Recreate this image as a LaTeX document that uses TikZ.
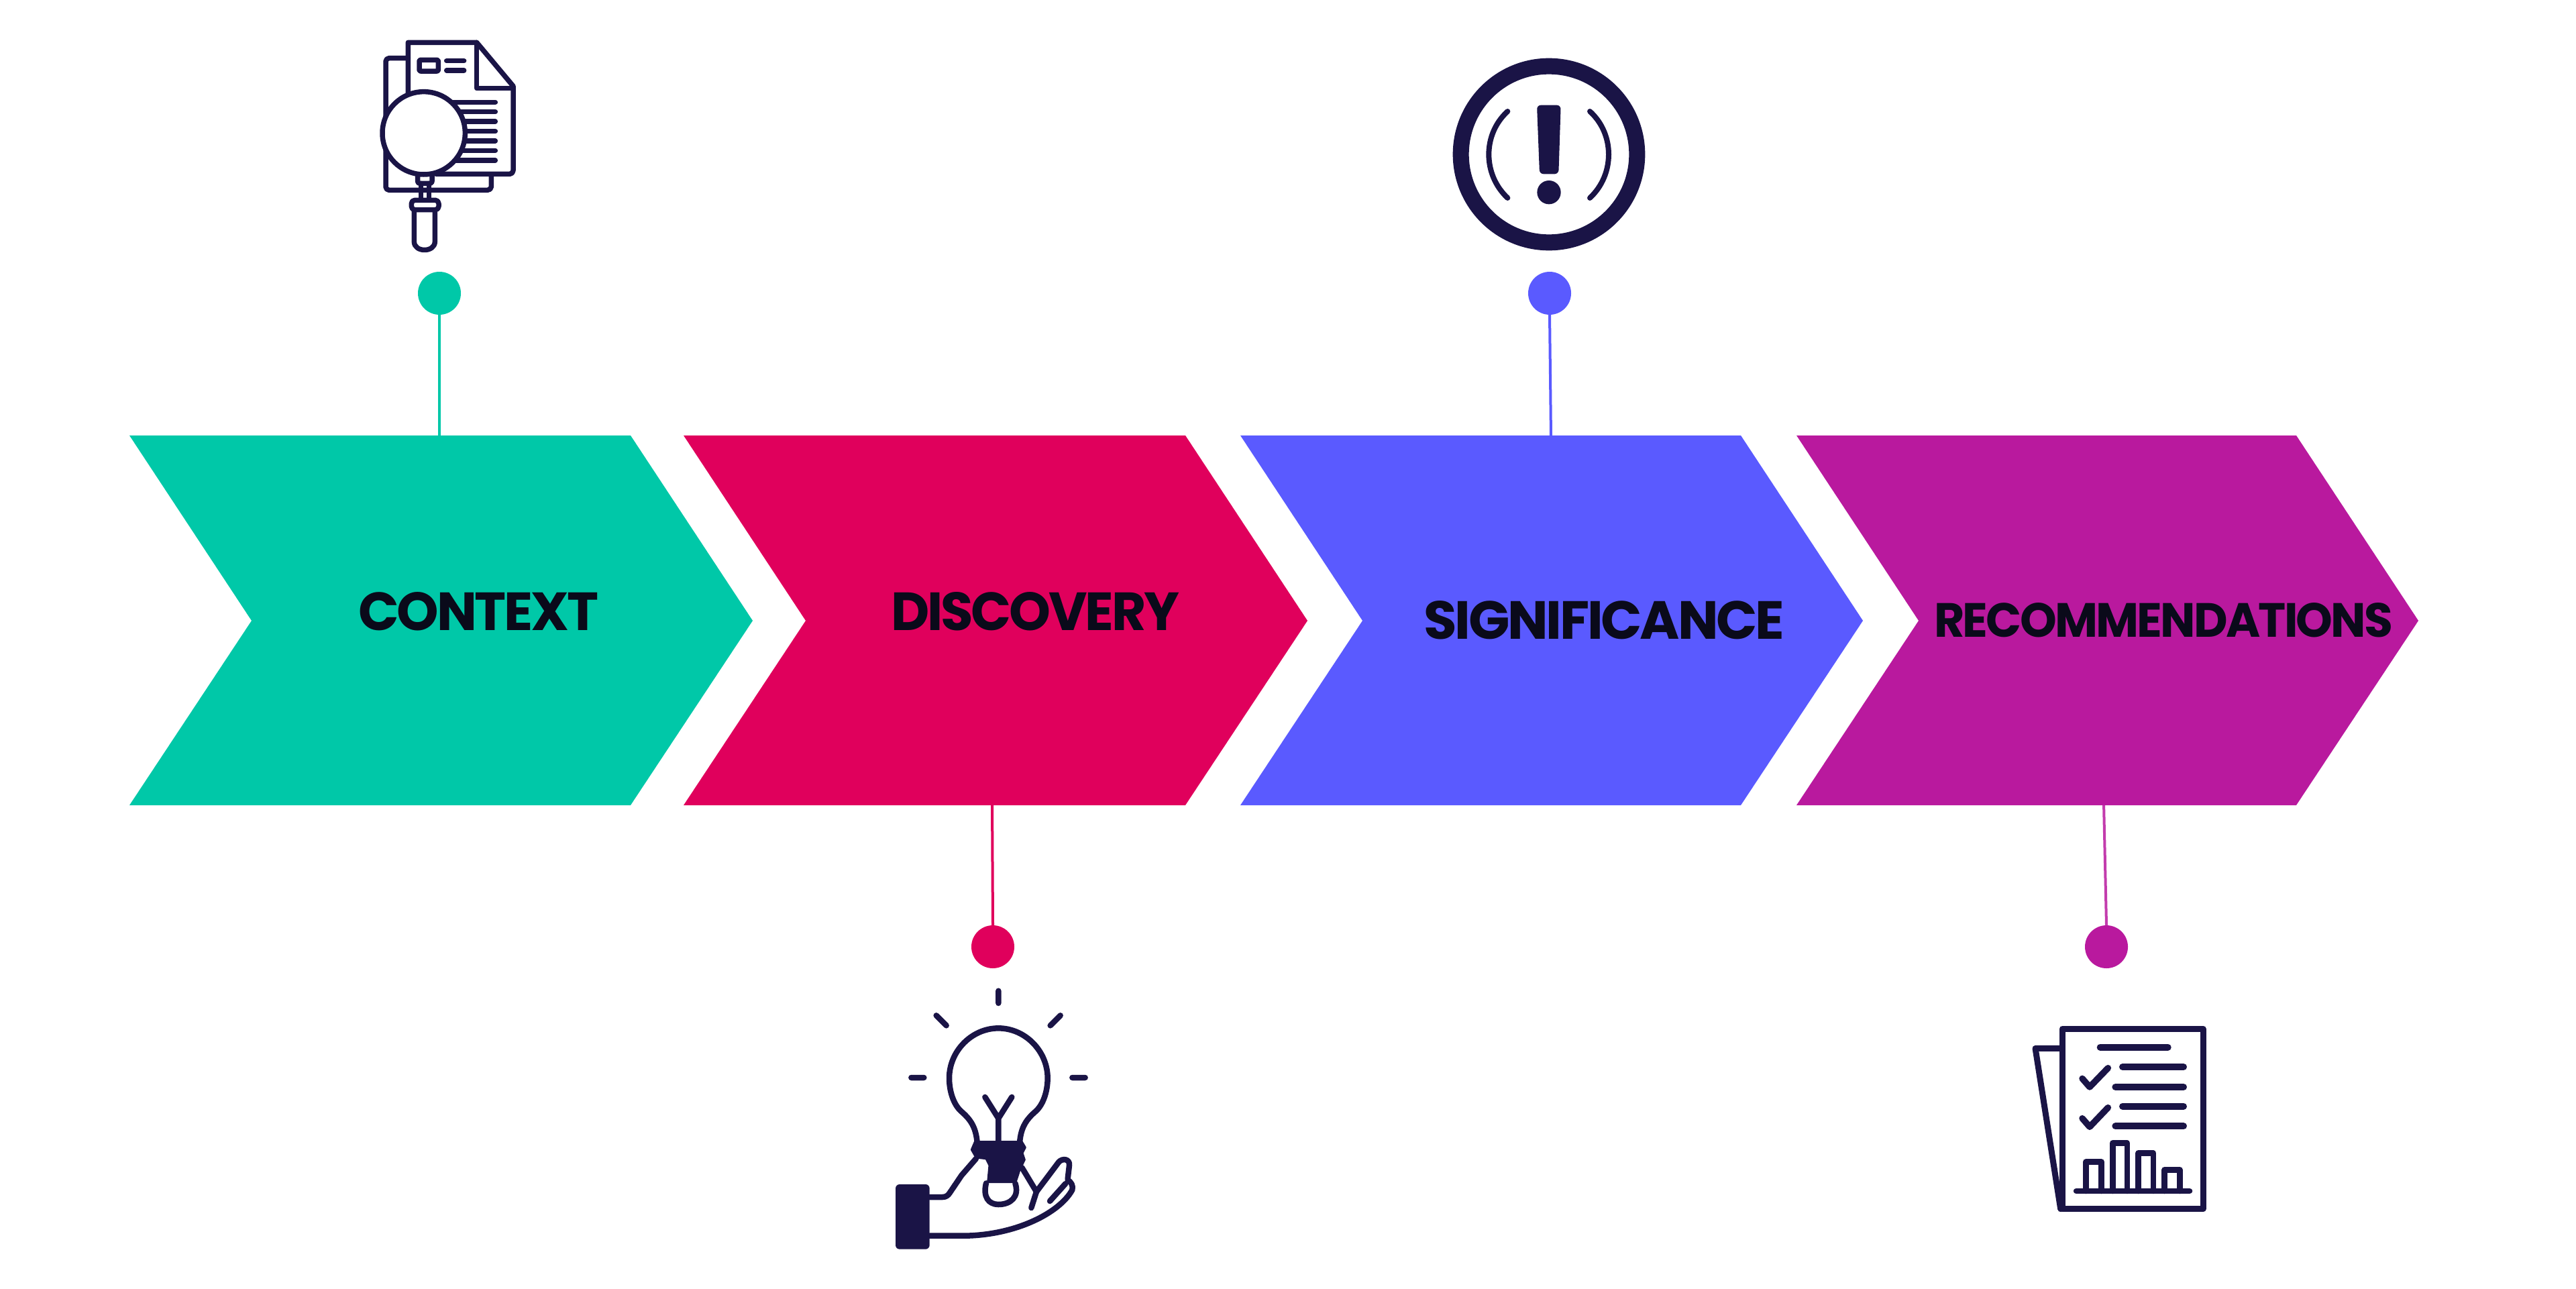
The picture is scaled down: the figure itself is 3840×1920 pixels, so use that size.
\documentclass[tikz,border=0pt]{standalone}
\usepackage{fontspec}
\usepackage{graphicx}
\setmainfont{Poppins}
\newfontfamily\heavyfont[LetterSpace=-4]{Poppins Bold}
\definecolor{navy}{HTML}{1A1446}
\definecolor{inktext}{HTML}{0A0A1A}
\definecolor{cgreen}{HTML}{00C8A8}
\definecolor{cpink}{HTML}{E0005C}
\definecolor{cblue}{HTML}{5A5AFF}
\definecolor{cpurple}{HTML}{B9199E}
\tikzset{
  dotnode/.style={circle,fill=#1,minimum size=64pt,inner sep=0pt,draw=none},
  linkline/.style={draw=#1,line width=4pt},
  iconline/.style={draw=navy,line width=#1,line cap=round,line join=round},
  iconline/.default=7.5pt,
  label/.style={anchor=base west,inner sep=0pt,text=inktext},
  zoomA/.style={shift={(500,30)},x=0.33333pt,y=-0.33333pt},
  zoomB/.style={shift={(2130,60)},x=0.33333pt,y=-0.33333pt},
  zoomC/.style={shift={(1290,1360)},x=0.33333pt,y=-0.33333pt},
  zoomD/.style={shift={(2990,1360)},x=0.33333pt,y=-0.33333pt},
}
\newcommand{\chevron}[3]{%
  \fill[#3] (#1,649) -- (#2,649) -- ++(182,276) -- ++(-182,275) -- (#1,1200) -- ++(182,-275) -- cycle;}
\begin{document}
\begin{tikzpicture}[x=1pt,y=-1pt]
\useasboundingbox (0,0) rectangle (3840,1920);
\fill[white] (0,0) rectangle (3840,1920);
\coordinate (top1) at (655,652);
\coordinate (bot2) at (1479,1197);
\coordinate (top3) at (2312,652);
\coordinate (bot4) at (3136,1197);
\node[dotnode=cgreen] (dot1) at (655,437) {};
\node[dotnode=cpink] (dot2) at (1480,1411) {};
\node[dotnode=cblue] (dot3) at (2310,437) {};
\node[dotnode=cpurple] (dot4) at (3140,1411) {};
\draw[linkline=cgreen] (dot1) -- (top1);
\draw[linkline=cpink] (dot2.north) -- (bot2);
\draw[linkline=cblue] (dot3.south) -- (top3);
\draw[linkline=cpurple!85] (dot4.north) -- (bot4);
\chevron{193}{940}{cgreen}
\chevron{1019}{1767}{cpink}
\chevron{1849}{2595}{cblue}
\chevron{2678}{3423}{cpurple}
\node[label] (t1) at (534,939) {\resizebox{358pt}{57pt}{\heavyfont CONTEXT}};
\node[label] (t2) at (1328,939) {\resizebox{430pt}{57pt}{\heavyfont DISCOVERY}};
\node[label] (t3) at (2122,952) {\resizebox{538pt}{57pt}{\heavyfont SIGNIFICANCE}};
\node[label] (t4) at (2883,949) {\resizebox{684pt}{51pt}{\heavyfont RECOMMENDATIONS}};
\begin{scope}[zoomA]
  \draw[iconline] (325,170) -- (240,170) to[out=180,in=90] (225,185) -- (225,745) to[out=-90,in=180] (240,760) -- (680,760) to[out=0,in=-90] (697,745) -- (697,690);
  \draw[iconline] (325,330) -- (325,100) -- (632,100) -- (795,295) -- (795,672) to[out=-90,in=0] (780,688) -- (450,688);
  \draw[iconline] (632,100) -- (632,305) -- (795,305);
  \draw[iconline,rounded corners=2pt] (375,178) rectangle (460,228);
  \draw[iconline] (497,182) -- (575,182) (497,225) -- (575,225);
  \foreach \yy in {367,410,453,497,540,583,627} \draw[iconline] (500,\yy) -- (715,\yy);
  \filldraw[iconline,fill=white] (395,505) circle[radius=185];
  \draw[iconline,rounded corners=3pt] (368,695) -- (368,730) -- (432,730) -- (432,695);
  \draw[iconline] (382,730) -- (382,800) (418,730) -- (418,800);
  \draw[iconline,rounded corners=5pt] (340,805) rectangle (462,848);
  \draw[iconline] (352,848) -- (352,990) .. controls (352,1040) and (445,1040) .. (445,990) -- (445,848);
\end{scope}
\begin{scope}[zoomB]
  \draw[navy,line width=24pt] (537,510) circle[radius=394];
  \fill[navy,rounded corners=6pt] (483,290) -- (590,290) -- (580,598) -- (495,598) -- cycle;
  \fill[navy] (537,680) circle[radius=53];
  \draw[iconline=8pt] (352,318) .. controls (240,420) and (240,600) .. (352,705);
  \draw[iconline=8pt] (720,318) .. controls (832,420) and (832,600) .. (720,705);
\end{scope}
\begin{scope}[zoomC]
  \draw[iconline=8.5pt] (595,350) -- (595,405) (317,460) -- (362,505) (872,460) -- (827,505) (205,738) -- (262,738) (925,738) -- (983,738);
  \draw[iconline=8.5pt] (500,1030) .. controls (495,960) and (470,925) .. (430,890) .. controls (395,860) and (375,800) .. (375,740) .. controls (375,620) and (475,517) .. (595,517) .. controls (715,517) and (815,620) .. (815,740) .. controls (815,800) and (795,860) .. (760,890) .. controls (720,925) and (695,960) .. (690,1030);
  \draw[iconline=8.5pt] (535,825) -- (595,920) -- (655,825) (595,920) -- (595,1030);
  \filldraw[iconline=3pt,fill=navy] (490,1025) -- (700,1025) -- (715,1050) -- (702,1075) -- (712,1105) -- (690,1150) -- (672,1205) -- (548,1205) -- (555,1130) -- (540,1100) -- (495,1095) -- (475,1060) -- cycle;
  \draw[iconline=8.5pt] (540,1210) .. controls (525,1270) and (550,1305) .. (595,1305) .. controls (650,1305) and (690,1270) .. (670,1210);
  \fill[navy,rounded corners=6pt] (135,1215) rectangle (287,1505);
  \draw[iconline=8.5pt] (287,1272) -- (345,1272) .. controls (360,1272) and (370,1265) .. (378,1252) -- (430,1175) -- (495,1100);
  \draw[iconline=8.5pt] (287,1445) -- (450,1445) .. controls (680,1440) and (870,1340) .. (925,1240) .. controls (930,1220) and (920,1205) .. (905,1195);
  \draw[iconline=8.5pt] (700,1140) -- (765,1248) -- (865,1115) .. controls (880,1098) and (915,1100) .. (912,1130) -- (905,1190);
  \draw[iconline=8.5pt] (765,1248) -- (742,1320);
  \draw[iconline=8.5pt] (825,1290) -- (895,1212);
\end{scope}
\begin{scope}[zoomD]
  \draw[iconline=9pt] (252,607) -- (132,607) -- (245,1325);
  \draw[iconline=9pt] (252,520) rectangle (882,1325);
  \draw[iconline=10pt] (422,602) -- (725,602) (522,690) -- (795,690) (490,780) -- (795,780) (522,866) -- (795,866) (490,955) -- (795,955);
  \draw[iconline=9.5pt] (342,742) -- (375,780) -- (457,695);
  \draw[iconline=9.5pt] (342,920) -- (375,958) -- (457,872);
  \draw[iconline=8.5pt] (315,1245) -- (822,1245);
  \draw[iconline=8.5pt] (358,1245) -- (358,1115) -- (428,1115) -- (428,1245);
  \draw[iconline=8.5pt] (478,1245) -- (478,1030) -- (543,1030) -- (543,1245);
  \draw[iconline=8.5pt] (593,1245) -- (593,1075) -- (660,1075) -- (660,1245);
  \draw[iconline=8.5pt] (710,1245) -- (710,1150) -- (778,1150) -- (778,1245);
\end{scope}
\end{tikzpicture}
\end{document}
